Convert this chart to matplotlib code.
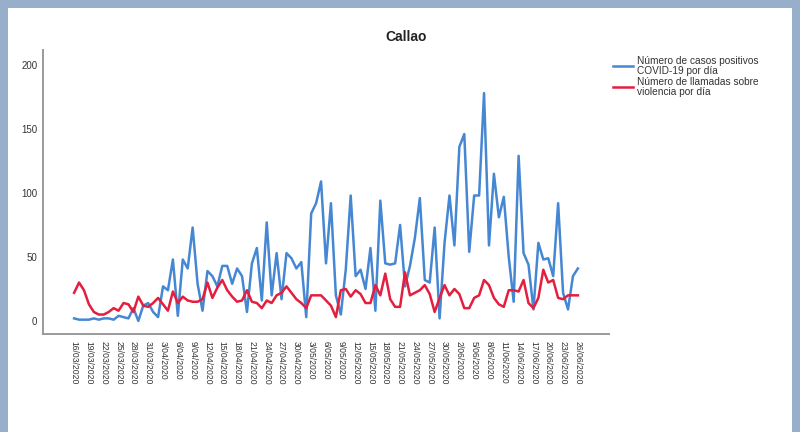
import matplotlib
matplotlib.use("Agg")
import matplotlib.pyplot as plt
from matplotlib.patches import Rectangle
from matplotlib.lines import Line2D

plt.rcParams["font.family"] = ["Liberation Sans", "DejaVu Sans"]

title = "Callao"

# Daily values, 16/03/2020 .. 26/06/2020
casos_covid = [
    2, 1, 1, 1, 2, 1, 2, 2, 1, 4,
    3, 2, 10, 0, 12, 14, 7, 3, 27, 24,
    48, 4, 48, 41, 73, 29, 8, 39, 35, 27,
    43, 43, 29, 41, 35, 7, 45, 57, 16, 77,
    20, 53, 17, 53, 49, 41, 46, 3, 84, 92,
    109, 45, 92, 20, 5, 40, 98, 35, 40, 25,
    57, 8, 94, 45, 44, 45, 75, 27, 43, 65,
    96, 32, 30, 73, 2, 61, 98, 59, 136, 146,
    54, 98, 98, 178, 59, 115, 81, 97, 50, 15,
    129, 53, 44, 9, 61, 48, 49, 35, 92, 22,
    9, 35, 41,
]

llamadas_violencia = [
    22, 30, 24, 13, 7, 5, 5, 7, 10, 8,
    14, 13, 7, 19, 12, 11, 14, 18, 13, 8,
    23, 14, 19, 16, 15, 15, 17, 30, 18, 26,
    32, 24, 19, 15, 16, 24, 15, 14, 10, 16,
    14, 20, 22, 27, 22, 17, 14, 10, 20, 20,
    20, 16, 12, 3, 24, 25, 19, 24, 21, 14,
    14, 28, 20, 37, 17, 11, 11, 38, 20, 22,
    24, 28, 21, 7, 18, 28, 20, 25, 21, 10,
    10, 18, 20, 32, 28, 18, 13, 11, 24, 24,
    23, 32, 14, 10, 18, 40, 30, 32, 18, 17,
    20, 20, 20,
]

fechas_eje = [
    "16/03/2020", "19/03/2020", "22/03/2020", "25/03/2020", "28/03/2020",
    "31/03/2020", "3/04/2020", "6/04/2020", "9/04/2020", "12/04/2020",
    "15/04/2020", "18/04/2020", "21/04/2020", "24/04/2020", "27/04/2020",
    "30/04/2020", "3/05/2020", "6/05/2020", "9/05/2020", "12/05/2020",
    "15/05/2020", "18/05/2020", "21/05/2020", "24/05/2020", "27/05/2020",
    "30/05/2020", "2/06/2020", "5/06/2020", "8/06/2020", "11/06/2020",
    "14/06/2020", "17/06/2020", "20/06/2020", "23/06/2020", "26/06/2020",
]

y_ticks = [0, 50, 100, 150, 200]

serie_labels = [
    "Número de casos positivos\nCOVID-19 por día",
    "Número de llamadas sobre\nviolencia por día",
]

azul = "#4687D3"
rojo = "#E41E3E"
marco = "#98AFCB"

W, H = 800, 432
fig = plt.figure(figsize=(W / 100, H / 100), dpi=100)
fig.patch.set_facecolor("white")

# outer frame bands (top, left, right)
for (x0, y0, w, h) in [(0, H - 8, W, 8), (0, 0, 8, H), (W - 8, 0, 8, H)]:
    fig.patches.append(Rectangle((x0 / W, y0 / H), w / W, h / H,
                                 transform=fig.transFigure, facecolor=marco,
                                 edgecolor="none", zorder=0))

ax = fig.add_axes([43 / W, 1 - 334 / H, (609 - 43) / W, (334 - 50) / H])
x = list(range(len(casos_covid)))
ax.plot(x, casos_covid, color=azul, lw=1.8, solid_joinstyle="round", zorder=3)
ax.plot(x, llamadas_violencia, color=rojo, lw=1.8, solid_joinstyle="round", zorder=4)

ax.set_xlim(-6.3, len(x) - 1 + 6.3)
ax.set_ylim(-10.2, 211.7)

ax.set_yticks(y_ticks)
ax.set_yticklabels([str(v) for v in y_ticks], fontsize=7, color="#333333")
ax.set_xticks(list(range(0, len(x), 3)))
ax.set_xticklabels(fechas_eje, rotation=-90, fontsize=6.2, color="#333333")
ax.tick_params(axis="y", length=0, pad=4)
ax.tick_params(axis="x", length=0, pad=5)

for side in ["top", "right"]:
    ax.spines[side].set_visible(False)
for side in ["left", "bottom"]:
    ax.spines[side].set_color("#9a9a9a")
    ax.spines[side].set_linewidth(1.4)

fig.text(406 / W, 1 - 37 / H, title, ha="center", va="center",
         fontsize=10, fontweight="bold", color="#222222")

handles = [Line2D([], [], color=azul, lw=1.8), Line2D([], [], color=rojo, lw=1.8)]
leg = fig.legend(handles, serie_labels, loc="upper left",
                 bbox_to_anchor=(604 / W, 1 - 47 / H), frameon=False,
                 fontsize=7.3, handlelength=2.0, handletextpad=0.4,
                 labelspacing=0.15, labelcolor="#333333")
for t in leg.get_texts():
    t.set_linespacing(0.95)

fig.savefig("out.png", dpi=100)
